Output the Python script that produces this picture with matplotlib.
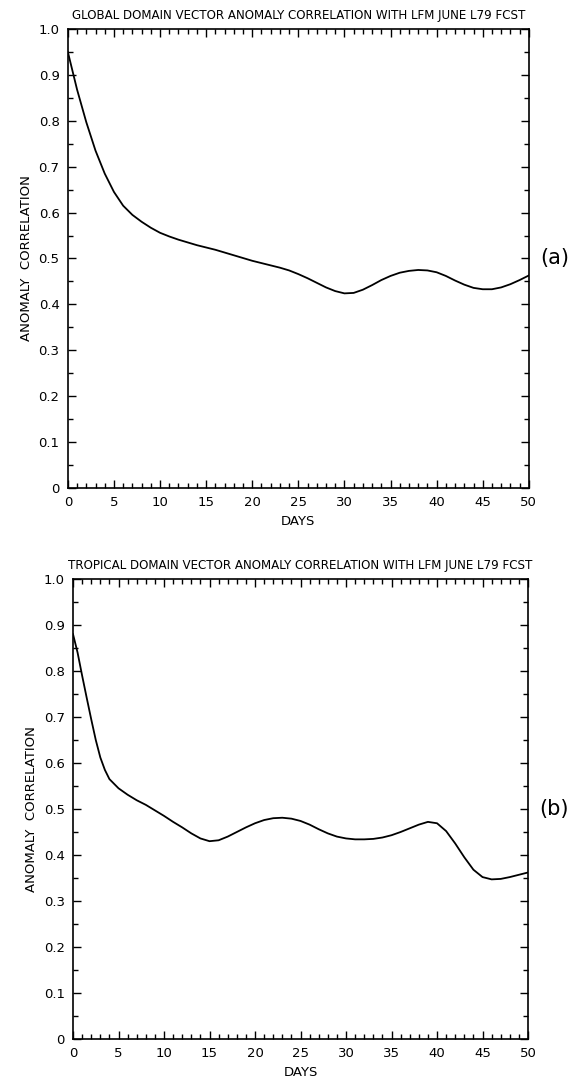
import matplotlib
matplotlib.use("Agg")
import matplotlib.pyplot as plt
import matplotlib.ticker as mticker

# ── data ─────────────────────────────────────────────────────
GLOBAL_DAYS = list(range(0, 51))
GLOBAL_AC = [0.950, 0.868, 0.797, 0.735, 0.685, 0.645, 0.615, 0.595, 0.580, 0.567,
             0.556, 0.548, 0.541, 0.535, 0.529, 0.524, 0.519, 0.513, 0.507, 0.501,
             0.495, 0.490, 0.485, 0.480, 0.474, 0.466, 0.457, 0.447, 0.437, 0.429,
             0.424, 0.425, 0.432, 0.442, 0.453, 0.462, 0.469, 0.473, 0.475, 0.474,
             0.470, 0.462, 0.452, 0.443, 0.436, 0.433, 0.433, 0.437, 0.444, 0.453,
             0.463]

TROP_DAYS = [0, 0.5, 1, 1.5, 2, 2.5, 3, 3.5, 4, 5, 6, 7, 8, 9, 10, 11, 12, 13,
             14, 15, 16, 17, 18, 19, 20, 21, 22, 23, 24, 25, 26, 27, 28, 29, 30,
             31, 32, 33, 34, 35, 36, 37, 38, 39, 40, 41, 42, 43, 44, 45, 46, 47,
             48, 49, 50]
TROP_AC = [0.880, 0.840, 0.790, 0.742, 0.695, 0.650, 0.612, 0.585, 0.565, 0.545,
           0.531, 0.519, 0.509, 0.497, 0.485, 0.472, 0.460, 0.447, 0.436, 0.430,
           0.432, 0.440, 0.450, 0.460, 0.469, 0.476, 0.480, 0.481, 0.479, 0.474,
           0.466, 0.456, 0.447, 0.440, 0.436, 0.434, 0.434, 0.435, 0.438, 0.443,
           0.450, 0.458, 0.466, 0.472, 0.469, 0.452, 0.425, 0.395, 0.368, 0.352,
           0.347, 0.348, 0.352, 0.357, 0.362]

X_TICKS = [0, 5, 10, 15, 20, 25, 30, 35, 40, 45, 50]
Y_TICKS = [0.0, 0.1, 0.2, 0.3, 0.4, 0.5, 0.6, 0.7, 0.8, 0.9, 1.0]
Y_LABELS = ["0", "0.1", "0.2", "0.3", "0.4", "0.5", "0.6", "0.7", "0.8", "0.9", "1.0"]

PANELS = [
    ("GLOBAL DOMAIN VECTOR ANOMALY CORRELATION WITH LFM JUNE L79 FCST", "(a)",
     GLOBAL_DAYS, GLOBAL_AC, [0.118, 0.5523, 0.8017, 0.4211]),
    ("TROPICAL DOMAIN VECTOR ANOMALY CORRELATION WITH LFM JUNE L79 FCST", "(b)",
     TROP_DAYS, TROP_AC, [0.127, 0.0468, 0.7913, 0.4220]),
]

fig = plt.figure(figsize=(5.75, 10.9), dpi=100)

for title, tag, days, ac, rect in PANELS:
    ax = fig.add_axes(rect)
    ax.plot(days, ac, color="black", linewidth=1.3, solid_joinstyle="round")
    ax.set_xlim(0, 50)
    ax.set_ylim(0, 1.0)
    ax.set_xticks(X_TICKS)
    ax.set_yticks(Y_TICKS)
    ax.set_yticklabels(Y_LABELS)
    ax.xaxis.set_minor_locator(mticker.MultipleLocator(1))
    ax.yaxis.set_minor_locator(mticker.MultipleLocator(0.05))
    ax.tick_params(which="both", direction="in", top=True, right=True,
                   labelsize=9.5, width=1.0)
    ax.tick_params(which="major", length=6, pad=6)
    ax.tick_params(which="minor", length=3.5)
    for s in ax.spines.values():
        s.set_linewidth(1.2)
    ax.set_title(title, fontsize=8.6, pad=7)
    ax.set_xlabel("DAYS", fontsize=9.5, labelpad=4)
    ax.set_ylabel("ANOMALY  CORRELATION", fontsize=9.5, labelpad=4)
    ax.text(1.025, 0.5, tag, transform=ax.transAxes, fontsize=15,
            ha="left", va="center")

fig.savefig("out.png", dpi=100)
